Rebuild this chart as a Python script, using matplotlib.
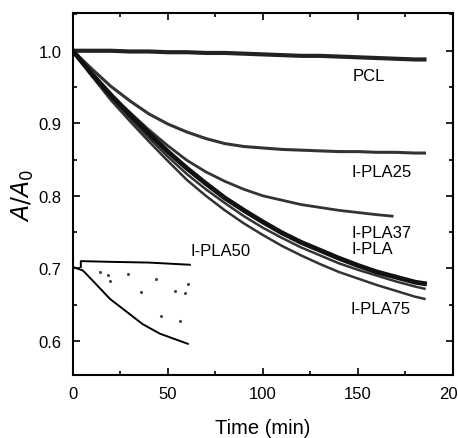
import matplotlib
matplotlib.use("Agg")
import matplotlib.pyplot as plt
from matplotlib.ticker import MultipleLocator

plt.rcParams['font.family'] = ['Liberation Sans', 'DejaVu Sans']

# time (min)
t = [0, 10, 20, 30, 40, 50, 60, 70, 80, 90, 100, 110, 120, 130, 140, 150, 160, 170, 180, 185]

pcl = [1.000, 1.000, 1.000, 0.999, 0.999, 0.998, 0.998, 0.997, 0.997, 0.996,
       0.995, 0.994, 0.993, 0.993, 0.992, 0.991, 0.990, 0.989, 0.988, 0.988]
pla25 = [1.000, 0.975, 0.951, 0.931, 0.913, 0.899, 0.888, 0.879, 0.872, 0.868,
         0.866, 0.864, 0.863, 0.862, 0.861, 0.861, 0.860, 0.860, 0.859, 0.859]
t37 = [0, 10, 20, 30, 40, 50, 60, 70, 80, 90, 100, 110, 120, 130, 140, 150, 160, 168]
pla37 = [1.000, 0.968, 0.939, 0.915, 0.891, 0.869, 0.849, 0.833, 0.820, 0.809,
         0.800, 0.794, 0.788, 0.784, 0.780, 0.777, 0.774, 0.772]
pla = [1.000, 0.968, 0.939, 0.912, 0.886, 0.861, 0.838, 0.817, 0.797, 0.780,
       0.764, 0.749, 0.736, 0.725, 0.714, 0.704, 0.695, 0.688, 0.681, 0.679]
pla50 = [1.000, 0.966, 0.935, 0.907, 0.880, 0.854, 0.830, 0.809, 0.790, 0.772,
         0.756, 0.742, 0.729, 0.718, 0.707, 0.698, 0.690, 0.682, 0.675, 0.672]
pla75 = [1.000, 0.965, 0.932, 0.903, 0.875, 0.848, 0.822, 0.800, 0.780, 0.762,
         0.746, 0.731, 0.718, 0.706, 0.695, 0.686, 0.677, 0.669, 0.661, 0.658]

# small inset-like traces at bottom left
ins_top_t = [4.2, 4.2, 20, 40, 61.6]
ins_top_y = [0.702, 0.710, 0.709, 0.708, 0.705]
ins_cur_t = [0, 5.3, 10.5, 19.5, 28.4, 36.8, 45.8, 60.5]
ins_cur_y = [0.702, 0.697, 0.683, 0.658, 0.640, 0.623, 0.610, 0.596]
dots_t = [14.2, 18.6, 19.8, 28.8, 43.5, 36.1, 53.7, 58.9, 46.3, 56.3, 60.4]
dots_y = [0.695, 0.691, 0.683, 0.692, 0.686, 0.667, 0.669, 0.666, 0.635, 0.627, 0.679]

fig = plt.figure(figsize=(4.58, 4.39), dpi=100)
ax = fig.add_axes([0.159, 0.1435, 0.830, 0.8245])

ax.plot(t, pcl, color='#222222', lw=3.0)
ax.plot(t, pla25, color='#333333', lw=2.2)
ax.plot(t37, pla37, color='#333333', lw=2.0)
ax.plot(t, pla50, color='#333333', lw=1.8)
ax.plot(t, pla75, color='#333333', lw=1.8)
ax.plot(t, pla, color='#111111', lw=3.5)

ax.plot(ins_top_t, ins_top_y, color='black', lw=1.4)
ax.plot(ins_cur_t, ins_cur_y, color='black', lw=1.4)
ax.scatter(dots_t, dots_y, s=1.5, color='#444444')

txt = dict(fontsize=12, color='black')
ax.text(147, 0.966, 'PCL', va='center', **txt)
ax.text(146.5, 0.834, 'I-PLA25', va='center', **txt)
ax.text(146.5, 0.750, 'I-PLA37', va='center', **txt)
ax.text(146.5, 0.727, 'I-PLA', va='center', **txt)
ax.text(146, 0.644, 'I-PLA75', va='center', **txt)
ax.text(62, 0.725, 'I-PLA50', va='center', **txt)

ax.set_xlim(0, 200)
ax.set_ylim(0.553, 1.052)
ax.set_xticks([0, 50, 100, 150, 200])
ax.set_xticklabels(['0', '50', '100', '150', '200'])
ax.set_yticks([0.6, 0.7, 0.8, 0.9, 1.0])
ax.xaxis.set_minor_locator(MultipleLocator(25))
ax.yaxis.set_minor_locator(MultipleLocator(0.05))
ax.tick_params(which='both', direction='in', top=True, right=True, labelsize=12, width=1.2)
ax.tick_params(which='major', length=5, pad=8)
ax.tick_params(which='minor', length=3)
for s in ax.spines.values():
    s.set_linewidth(1.5)

ax.set_xlabel('Time (min)', fontsize=14.5, labelpad=12)
ax.set_ylabel('$A/A_0$', fontsize=17, labelpad=2)

fig.savefig('out.png', dpi=100)
